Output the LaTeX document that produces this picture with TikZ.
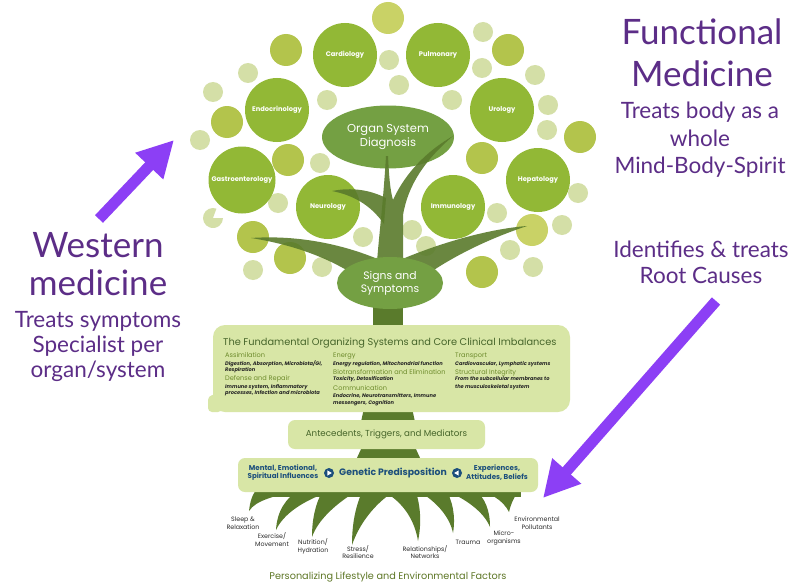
\documentclass[tikz,border=0pt]{standalone}
\usepackage{fontspec}
\setmainfont{Poppins}
\newfontfamily\latofont{Lato}
\usetikzlibrary{shapes.geometric,arrows.meta,calc}

\definecolor{bigC}{HTML}{92B836}
\definecolor{ovalC}{HTML}{74A043}
\definecolor{trunkC}{HTML}{5A7B2C}
\definecolor{oliveC}{HTML}{B3C44C}
\definecolor{yellowC}{HTML}{C9D266}
\definecolor{paleC}{HTML}{D4DFA7}
\definecolor{boxC}{HTML}{D8E6A6}
\definecolor{titleC}{HTML}{46652A}
\definecolor{subC}{HTML}{6E8C2D}
\definecolor{blueC}{HTML}{1C4F7C}
\definecolor{purpC}{HTML}{5C2D87}
\definecolor{arrowC}{HTML}{8C3FF5}
\definecolor{rootTxt}{HTML}{2A2A2A}

\tikzset{
  organ/.style={circle,fill=bigC,minimum size=64pt,inner sep=0pt,text=white,
    font=\bfseries\fontsize{6.7}{8}\selectfont},
  oval/.style={ellipse,fill=ovalC,inner sep=0pt},
  ovaltext/.style={text=white,align=center},
  trunk/.style={fill=trunkC,fill opacity=0.9},
  panel/.style={fill=boxC,rounded corners=#1,inner sep=0pt},
  title/.style={text=titleC,inner sep=0pt,anchor=base west,font=\fontsize{9.8}{11}\selectfont},
  subhead/.style={text=subC,inner sep=0pt,anchor=base west,font=\fontsize{6.6}{7.5}\selectfont},
  desc/.style={text=black!85,inner sep=0pt,anchor=base west,font=\bfseries\itshape\fontsize{5.1}{6}\selectfont},
  gene/.style={text=blueC,inner sep=0pt,align=center,font=\bfseries\fontsize{7.1}{8.4}\selectfont},
  rootlbl/.style={text=rootTxt,inner sep=0pt,align=center,font=\fontsize{6.3}{7.8}\selectfont},
  bigword/.style={text=purpC,inner sep=0pt,anchor=base,font=\latofont\fontsize{35}{40}\selectfont},
  smallword/.style={text=purpC,inner sep=0pt,anchor=base,font=\latofont\fontsize{22.5}{26}\selectfont},
  bigarrow/.style={draw=arrowC,line width=11pt,-{Triangle[length=36pt,width=36pt]}},
  bulletc/.style={circle,fill=blueC,minimum size=10pt,inner sep=0pt}
}

\begin{document}
\begin{tikzpicture}[x=1pt,y=-1pt]
\useasboundingbox (0,0) rectangle (791,583);
\fill[white] (0,0) rectangle (791,583);

% ---- leaves: small circles ----
\foreach \x/\y in {388/18, 532/230}
  \fill[yellowC] (\x,\y) circle[radius=16pt];
\foreach \x/\y in {286/50, 508/50, 227/122, 580/137, 288/160, 482/158, 253/237, 290/258, 482/272}
  \fill[oliveC] (\x,\y) circle[radius=16pt];
\foreach \x/\y in {248/73, 389/60, 399/85, 483/32, 482/68, 535/75, 213/92, 327/100, 452/100,
                   548/105, 547/130, 200/140, 320/163, 578/193, 278/203, 497/213, 562/225,
                   363/237, 412/230, 426/246, 510/250, 322/267, 253/270, 533/267}
  \fill[paleC] (\x,\y) circle[radius=10pt];
\fill[paleC] (213,218) -- ++(70:10pt) arc[start angle=70,end angle=360,radius=10pt] -- cycle;

% ---- organ specialty circles ----
\node[organ] (cardio) at (345,55) {Cardiology};
\node[organ] (pulmo) at (438,55) {Pulmonary};
\node[organ] (endo) at (277,110) {Endocrinology};
\node[organ] (uro) at (502,110) {Urology};
\node[organ,minimum size=67pt] (gastro) at (242,180) {Gastroenterology};
\node[organ] (hepa) at (538,180) {Hepatology};
\node[organ] (neuro) at (328,207) {Neurology};
\node[organ] (immuno) at (453,207) {Immunology};

% ---- crown ellipse ----
\node[oval,minimum width=132pt,minimum height=63pt] (diag) at (388,137) {};

% ---- trunk and branches ----
\fill[trunk] (376,300) -- (377,262) .. controls (379,235) and (383,205) .. (386,156)
  -- (388,156) .. controls (389,175) and (390,190) .. (393,200)
  .. controls (402,180) and (420,155) .. (453,136)
  .. controls (425,160) and (408,185) .. (403,215) -- (403,262) -- (404,300) -- cycle;
\fill[trunk] (386,198) .. controls (370,190) and (352,187) .. (332,191)
  .. controls (352,195) and (370,204) .. (384,224) -- cycle;
\fill[trunk] (380,260) .. controls (340,243) and (295,235) .. (251,238)
  .. controls (295,245) and (340,260) .. (378,292) -- cycle;
\fill[trunk] (400,260) .. controls (440,243) and (488,229) .. (527,226)
  .. controls (488,239) and (442,260) .. (404,292) -- cycle;

\node[ovaltext,font=\fontsize{11.5}{14}\selectfont] at (diag) {Organ System\\Diagnosis};

% ---- signs ellipse ----
\fill[trunkC] (373,290) rectangle (403,330);
\node[oval,minimum width=106pt,minimum height=52pt,ovaltext,
      font=\fontsize{10.8}{13}\selectfont] (signs) at (390,283) {Signs and\\Symptoms};

% ---- trunk segments between panels ----
\fill[trunkC] (364,408) -- (412,408) -- (415,422) -- (361,422) -- cycle;
\fill[trunkC] (362,447) -- (415,447) -- (421,460) -- (356,460) -- cycle;

% ---- roots ----
\fill[trunkC] (258,486) rectangle (521,497);
\fill[trunkC] (258,488) .. controls (252,494) and (250,502) .. (249,511)
  .. controls (256,500) and (275,496) .. (300,490) -- cycle;
\fill[trunkC] (300,490) .. controls (285,498) and (277,512) .. (276,530)
  .. controls (283,515) and (300,503) .. (323,494) -- cycle;
\fill[trunkC] (322,492) .. controls (315,505) and (312,520) .. (312,537)
  .. controls (318,520) and (335,505) .. (352,494) -- cycle;
\fill[trunkC] (362,492) .. controls (355,508) and (352,525) .. (352,545)
  .. controls (360,522) and (375,505) .. (390,494) -- cycle;
\fill[trunkC] (388,494) .. controls (405,505) and (415,522) .. (418,541)
  .. controls (422,522) and (420,505) .. (416,492) -- cycle;
\fill[trunkC] (420,492) .. controls (438,503) and (450,518) .. (453,533)
  .. controls (456,515) and (452,500) .. (446,490) -- cycle;
\fill[trunkC] (444,490) .. controls (465,498) and (484,512) .. (490,527)
  .. controls (490,510) and (485,498) .. (475,490) -- cycle;
\fill[trunkC] (470,488) .. controls (490,492) and (503,500) .. (509,512)
  .. controls (511,503) and (515,495) .. (521,488) -- cycle;

% ---- panels ----
\node[panel=12pt,minimum width=357pt,minimum height=87pt] (fund) at (391.5,368.5) {};
\fill[boxC,rounded corners=4pt] (208,396) -- (222,393) -- (222,412) -- (208,412) -- cycle;
\node[panel=7pt,minimum width=197pt,minimum height=29pt,text=titleC,
      font=\fontsize{8.7}{10}\selectfont] (ante) at (386.5,434.5) {Antecedents, Triggers, and Mediators};
\node[panel=7pt,minimum width=300pt,minimum height=34pt] (gen) at (388,475) {};

% ---- fundamental systems text ----
\node[title] (ftitle) at (223,345) {The Fundamental Organizing Systems and Core Clinical Imbalances};
\node[subhead] (assim) at (225,357) {Assimilation};
\node[desc] at (225,365.5) {Digestion, Absorption, Microbiota/GI,};
\node[desc] at (225,371) {Respiration};
\node[subhead] (defense) at (225,380) {Defense and Repair};
\node[desc] at (225,388.5) {Immune system, Inflammatory};
\node[desc] at (225,394.5) {processes, Infection and microbiota};
\node[subhead] (energy) at (333,357) {Energy};
\node[desc] at (333,365.5) {Energy regulation, Mitochondrial function};
\node[subhead] (biotr) at (333,374) {Biotransformation and Elimination};
\node[desc] at (333,380.5) {Toxicity, Detoxification};
\node[subhead] (comm) at (333,390) {Communication};
\node[desc] at (333,397.5) {Endocrine, Neurotransmitters, Immune};
\node[desc] at (333,404) {messengers, Cognition};
\node[subhead] (transp) at (455,357) {Transport};
\node[desc] at (455,365.5) {Cardiovascular, Lymphatic systems};
\node[subhead] (struct) at (455,374) {Structural Integrity};
\node[desc] at (455,380.5) {From the subcellular membranes to};
\node[desc] at (455,388.5) {the musculoskeletal system};

% ---- genetic predisposition row ----
\node[gene] (mental) at (283,472.5) {Mental, Emotional,\\Spiritual Influences};
\node[bulletc] (bl) at (329,473) {};
\fill[white] ($(bl)+(-1.6,-2.6)$) -- ($(bl)+(2.8,0)$) -- ($(bl)+(-1.6,2.6)$) -- cycle;
\node[gene,font=\bfseries\fontsize{9.3}{11}\selectfont] (genetic) at (393,473) {Genetic Predisposition};
\node[bulletc] (br) at (457,473) {};
\fill[white] ($(br)+(1.6,-2.6)$) -- ($(br)+(-2.8,0)$) -- ($(br)+(1.6,2.6)$) -- cycle;
\node[gene] (exper) at (497,472.5) {Experiences,\\Attitudes, Beliefs};

% ---- root labels ----
\node[rootlbl] (sleep) at (243,523) {Sleep \&\\Relaxation};
\node[rootlbl] (exer) at (272,539.5) {Exercise/\\Movement};
\node[rootlbl] (nutr) at (313,546) {Nutrition/\\Hydration};
\node[rootlbl] (stress) at (358,552) {Stress/\\Resilience};
\node[rootlbl] (relat) at (425,552) {Relationships/\\Networks};
\node[rootlbl] (trauma) at (468,542) {Trauma};
\node[rootlbl] (micro) at (504,538) {Micro-\\organisms};
\node[rootlbl] (envir) at (537,523) {Environmental\\Pollutants};
\node[text=subC!85!black,font=\fontsize{9.7}{11}\selectfont,inner sep=0pt] (lifest) at (388,577)
  {Personalizing Lifestyle and Environmental Factors};

% ---- western medicine side ----
\node[bigword] (w1) at (98,257) {Western};
\node[bigword] (w2) at (98,295) {medicine};
\node[smallword] (w3) at (98,327) {Treats symptoms};
\node[smallword] (w4) at (98,352) {Specialist per};
\node[smallword] (w5) at (98,377) {organ/system};
\coordinate (wtail) at (99,219);
\coordinate (whead) at (174,140);
\draw[bigarrow] (wtail) -- (whead);

% ---- functional medicine side ----
\node[bigword] (f1) at (702,45) {Functional};
\node[bigword] (f2) at (702,87) {Medicine};
\node[smallword] (f3) at (700,118) {Treats body as a};
\node[smallword] (f4) at (700,146) {whole};
\node[smallword] (f5) at (700,173) {Mind-Body-Spirit};
\node[smallword] (f6) at (701,257) {Identifies \& treats};
\node[smallword] (f7) at (701,283) {Root Causes};
\coordinate (ftail) at (716,301);
\coordinate (fhead) at (543,498);
\draw[bigarrow] (ftail) -- (fhead);
\end{tikzpicture}
\end{document}
